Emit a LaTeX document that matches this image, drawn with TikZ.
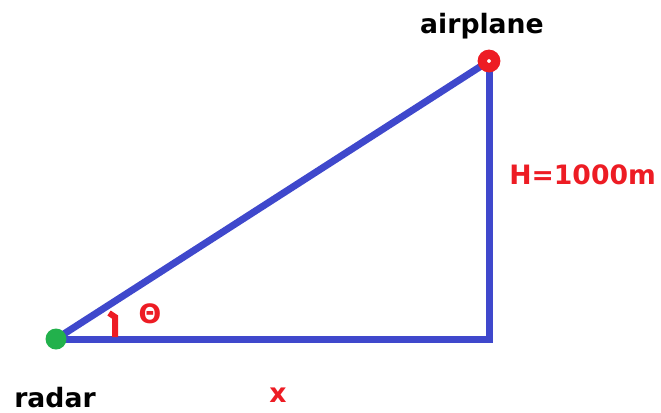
\documentclass[tikz,border=0pt]{standalone}
\usepackage{fontspec}
\setmainfont{DejaVu Sans}
\usetikzlibrary{backgrounds,positioning}
\definecolor{paintblue}{RGB}{63,72,204}
\definecolor{paintred}{RGB}{237,28,36}
\definecolor{paintgreen}{RGB}{34,177,76}
\tikzset{
    sketch/.style    = {x=0.75pt, y=-0.75pt,
                        font=\fontsize{20}{24}\selectfont\bfseries},
    side/.style      = {draw=paintblue, line width=5.25pt, line join=miter},
    dot/.style       = {circle, inner sep=0pt},
    radar dot/.style = {dot, fill=paintgreen, minimum size=15.75pt},
    plane dot/.style = {dot, fill=white, draw=paintred, line width=7pt,
                        minimum size=10pt},
    tag/.style       = {inner sep=0pt, anchor=base},
    red tag/.style   = {tag, text=paintred},
    angle tick/.style = {draw=paintred, line width=4.5pt}
}

\begin{document}
\begin{tikzpicture}[sketch]
\useasboundingbox (0,0) rectangle (661,412);
\node[radar dot] (radar) at (56,339) {};
\node[plane dot] (airplane) at (489,61) {};
\coordinate (corner) at (489,339);
\begin{scope}[on background layer]
\draw[side] (radar.center) -- (corner) -- (airplane.center);
\draw[side] (radar.center) -- (airplane.center);
\end{scope}

\node[tag] (plane label) at (482,33) {airplane};
\node[tag] (radar label) at (55,407) {radar};
\node[red tag,anchor=base west] (height) at (509,184) {H=1000m};
\node[red tag] (base) at (278,402) {x};
\node[red tag] (theta) at (150,323) {Θ};
\draw[angle tick] (109,313) -- (115,317) -- (115,337);
\end{tikzpicture}
\end{document}
